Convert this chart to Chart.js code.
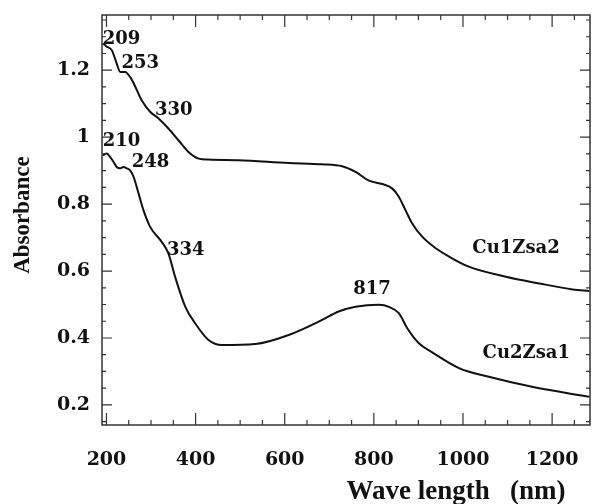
<!DOCTYPE html>
<html>
<head>
<meta charset="utf-8">
<script src="https://cdn.jsdelivr.net/npm/chart.js@4"></script>
<style>
  body { margin: 0; background: #fff; }
  #wrap { width: 594px; height: 504px; position: relative; }
</style>
</head>
<body>
<div id="wrap"><canvas id="uvChart"></canvas></div>
<script>
// Data
const waveUpper = [192, 201, 212, 223, 231, 242, 253, 265, 279, 298, 317, 339, 362, 384, 407, 429, 497, 609, 684, 729, 759, 789, 819, 841, 856, 871, 886, 909, 939, 969, 1013, 1096, 1171, 1246, 1284];
const absUpper = [1.28, 1.27, 1.26, 1.22, 1.195, 1.195, 1.18, 1.15, 1.11, 1.076, 1.056, 1.026, 0.99, 0.956, 0.936, 0.933, 0.931, 0.923, 0.919, 0.913, 0.896, 0.870, 0.860, 0.847, 0.822, 0.782, 0.742, 0.702, 0.668, 0.643, 0.613, 0.583, 0.563, 0.545, 0.540];

const waveLower = [192, 201, 208, 216, 223, 231, 238, 246, 253, 261, 272, 283, 298, 324, 339, 354, 377, 399, 429, 459, 534, 609, 684, 721, 759, 811, 834, 856, 875, 901, 930, 991, 1058, 1155, 1284];
const absLower = [0.946, 0.951, 0.941, 0.926, 0.911, 0.907, 0.911, 0.907, 0.901, 0.881, 0.832, 0.782, 0.732, 0.687, 0.653, 0.583, 0.493, 0.444, 0.394, 0.379, 0.382, 0.409, 0.454, 0.479, 0.493, 0.499, 0.493, 0.474, 0.429, 0.384, 0.358, 0.310, 0.284, 0.254, 0.224];

const xTicks = [200, 400, 600, 800, 1000, 1200];
const xTickLabels = ['200', '400', '600', '800', '1000', '1200'];
const yTicks = [0.2, 0.4, 0.6, 0.8, 1.0, 1.2];
const yTickLabels = ['0.2', '0.4', '0.6', '0.8', '1', '1.2'];

// peak labels and series names: [text, wavelength, absorbance]
const peakLabels = [
    ['209', 234, 1.293],
    ['253', 276, 1.221],
    ['330', 351, 1.081],
    ['210', 234, 0.988],
    ['248', 299, 0.925],
    ['334', 378, 0.663],
    ['817', 796, 0.546]
];
const seriesNames = [
    ['Cu1Zsa2', 1119, 0.669],
    ['Cu2Zsa1', 1142, 0.355]
];

const toPoints = (xs, ys) => xs.map((x, i) => ({ x: x, y: ys[i] }));

// frame, inward ticks, text labels
const framePlugin = {
    id: 'frame',
    afterDraw(chart) {
        const c = chart.ctx;
        const a = chart.chartArea;
        const xs = chart.scales.x;
        const ys = chart.scales.y;
        c.save();
        c.strokeStyle = '#333';
        c.lineWidth = 1.5;
        c.strokeRect(a.left, a.top, a.right - a.left, a.bottom - a.top);

        c.lineWidth = 1.2;
        c.beginPath();
        for (let v = 200; v <= 1250; v += 50) {
            const px = xs.getPixelForValue(v);
            const len = xTicks.includes(v) ? 12 : 5;
            c.moveTo(px, a.bottom); c.lineTo(px, a.bottom - len);
            c.moveTo(px, a.top); c.lineTo(px, a.top + len);
        }
        for (let i = 3; i <= 27; i++) {
            const v = i * 0.05;
            const py = ys.getPixelForValue(v);
            const len = (i % 4 === 0) ? 10 : 4;
            c.moveTo(a.left, py); c.lineTo(a.left + len, py);
            c.moveTo(a.right, py); c.lineTo(a.right - len, py);
        }
        c.stroke();

        c.fillStyle = '#111';
        c.textAlign = 'center';
        c.textBaseline = 'middle';
        c.font = 'bold 18px "DejaVu Serif"';
        peakLabels.concat(seriesNames).forEach(([t, x, y]) => {
            c.fillText(t, xs.getPixelForValue(x), ys.getPixelForValue(y));
        });

        // axis titles
        c.font = 'bold 27px "Liberation Serif"';
        c.fillText('Wave length   (nm)', 456, 492);
        c.translate(23, 215);
        c.rotate(-Math.PI / 2);
        c.font = 'bold 23px "Liberation Serif"';
        c.fillText('Absorbance', 0, 0);
        c.restore();
    }
};

const tickFont = { family: 'DejaVu Serif', size: 19, weight: 'bold' };

new Chart(document.getElementById('uvChart'), {
    type: 'line',
    data: {
        datasets: [{
            label: 'Cu1Zsa2',
            data: toPoints(waveUpper, absUpper),
            borderColor: '#111',
            borderWidth: 2,
            pointRadius: 0,
            cubicInterpolationMode: 'monotone'
        }, {
            label: 'Cu2Zsa1',
            data: toPoints(waveLower, absLower),
            borderColor: '#111',
            borderWidth: 2,
            pointRadius: 0,
            cubicInterpolationMode: 'monotone'
        }]
    },
    options: {
        responsive: true,
        maintainAspectRatio: false,
        animation: false,
        layout: { padding: { top: 15, right: 4, left: 0, bottom: 0 } },
        scales: {
            x: {
                type: 'linear',
                min: 190,
                max: 1285,
                afterFit: s => {
                    s.height = 79;
                    s.paddingLeft = 0;
                    s.paddingRight = 0;
                },
                afterBuildTicks: s => { s.ticks = xTicks.map(v => ({ value: v })); },
                grid: { display: false, drawTicks: false },
                border: { display: false },
                ticks: {
                    padding: 24,
                    color: '#111',
                    font: tickFont,
                    maxRotation: 0,
                    autoSkip: false,
                    callback: (v) => xTickLabels[xTicks.indexOf(v)]
                }
            },
            y: {
                min: 0.14,
                max: 1.365,
                afterFit: s => {
                    s.width = 102;
                    s.paddingTop = 0;
                    s.paddingBottom = 0;
                },
                afterBuildTicks: s => { s.ticks = yTicks.map(v => ({ value: v })); },
                grid: { display: false, drawTicks: false },
                border: { display: false },
                ticks: {
                    padding: 12,
                    color: '#111',
                    font: tickFont,
                    autoSkip: false,
                    callback: (v) => {
                        const i = yTicks.findIndex(t => Math.abs(t - v) < 1e-6);
                        return i >= 0 ? yTickLabels[i] : '';
                    }
                }
            }
        },
        plugins: {
            legend: { display: false },
            tooltip: { enabled: false }
        }
    },
    plugins: [framePlugin]
});
</script>
</body>
</html>
